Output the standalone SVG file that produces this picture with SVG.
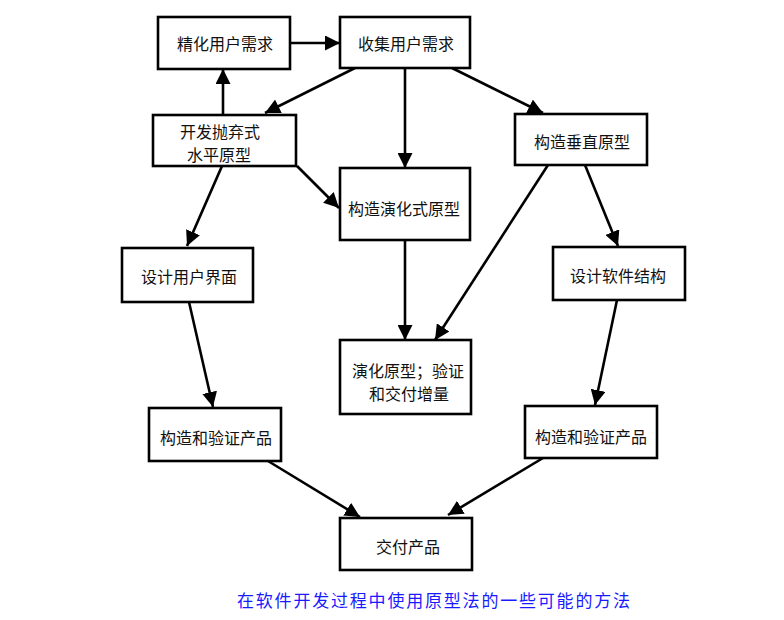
<svg xmlns="http://www.w3.org/2000/svg" width="784" height="620" viewBox="0 0 784 620">
<defs>
<marker id="ah" markerUnits="userSpaceOnUse" markerWidth="16" markerHeight="15" refX="15" refY="7.5" orient="auto">
<path d="M0,0 L15,7.5 L0,15 z" fill="#000"/>
</marker>
<style>
.box rect{fill:#fff;stroke:#000;stroke-width:2.6}
.box text{font-family:"Noto Sans CJK SC","Liberation Sans",sans-serif;font-size:16px;fill:#111;text-anchor:middle;dominant-baseline:central}
#edges line{stroke:#000;stroke-width:2.6;marker-end:url(#ah)}
.cap{font-family:"Noto Sans CJK SC","Liberation Sans",sans-serif;font-size:17px;fill:#1a1aff}
</style>
</defs>
<rect width="784" height="620" fill="#fff"/>
<g id="edges">
<line x1="290" y1="43" x2="340" y2="43"/>
<line x1="223" y1="115" x2="223" y2="69"/>
<line x1="355" y1="68" x2="265" y2="113"/>
<line x1="405" y1="68" x2="405" y2="168"/>
<line x1="452" y1="68" x2="543" y2="113"/>
<line x1="297" y1="166" x2="339" y2="208"/>
<line x1="222" y1="166" x2="187" y2="246"/>
<line x1="585" y1="165" x2="618" y2="246"/>
<line x1="548" y1="165" x2="435" y2="340"/>
<line x1="405" y1="240" x2="405" y2="340"/>
<line x1="189" y1="302" x2="213" y2="407"/>
<line x1="617" y1="300" x2="595" y2="405"/>
<line x1="268" y1="461" x2="360" y2="517"/>
<line x1="543" y1="458" x2="448" y2="515"/>
</g>
<g id="n1" class="box"><rect x="158" y="17" width="132" height="52"/><text x="225" y="43">精化用户需求</text></g>
<g id="n2" class="box"><rect x="340" y="17" width="130" height="51"/><text x="406" y="43">收集用户需求</text></g>
<g id="n3" class="box"><rect x="153" y="115" width="143" height="51"/><text x="220" y="131">开发抛弃式</text><text x="219" y="154">水平原型</text></g>
<g id="n4" class="box"><rect x="515" y="114" width="132" height="51"/><text x="582" y="141">构造垂直原型</text></g>
<g id="n5" class="box"><rect x="340" y="168" width="130" height="72"/><text x="404" y="208">构造演化式原型</text></g>
<g id="n6" class="box"><rect x="122" y="248" width="131" height="54"/><text x="189" y="276">设计用户界面</text></g>
<g id="n7" class="box"><rect x="553" y="247" width="132" height="53"/><text x="618" y="275">设计软件结构</text></g>
<g id="n8" class="box"><rect x="340" y="340" width="131" height="74"/><text x="408" y="370">演化原型；验证</text><text x="409" y="393">和交付增量</text></g>
<g id="n9" class="box"><rect x="149" y="408" width="132" height="53"/><text x="216" y="437">构造和验证产品</text></g>
<g id="n10" class="box"><rect x="525" y="406" width="132" height="52"/><text x="591" y="436">构造和验证产品</text></g>
<g id="n11" class="box"><rect x="340" y="518" width="132" height="52"/><text x="408" y="546">交付产品</text></g>
<text class="cap" x="237" y="607" textLength="393" lengthAdjust="spacing">在软件开发过程中使用原型法的一些可能的方法</text>
</svg>
